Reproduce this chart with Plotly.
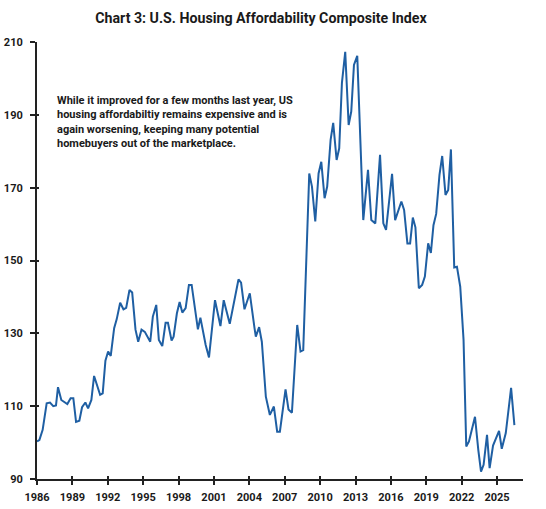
import plotly.graph_objects as go

# index readings (decimal year, index value)
years = [
    1986.0, 1986.2, 1986.48, 1986.82, 1987.1, 1987.38, 1987.61, 1987.78, 1988.06, 1988.34,
    1988.57, 1988.85, 1989.08, 1989.31, 1989.59, 1989.82, 1990.1, 1990.33, 1990.61, 1990.84,
    1991.12, 1991.35, 1991.57, 1991.8, 1992.03, 1992.25, 1992.54, 1992.76, 1993.05, 1993.33,
    1993.56, 1993.84, 1994.07, 1994.35, 1994.58, 1994.86, 1995.14, 1995.6, 1995.82, 1996.11,
    1996.33, 1996.62, 1996.9, 1997.1, 1997.41, 1997.58, 1997.86, 1998.09, 1998.32, 1998.6,
    1998.88, 1999.11, 1999.64, 1999.85, 2000.3, 2000.58, 2001.09, 2001.55, 2001.83, 2002.34,
    2003.08, 2003.3, 2003.59, 2004.04, 2004.44, 2004.55, 2004.83, 2005.06, 2005.4, 2005.74,
    2006.08, 2006.36, 2006.59, 2006.81, 2007.07, 2007.32, 2007.61, 2008.06, 2008.34, 2008.57,
    2009.08, 2009.31, 2009.59, 2009.87, 2010.1, 2010.38, 2010.6, 2010.89, 2011.11, 2011.4,
    2011.62, 2011.85, 2012.13, 2012.42, 2012.64, 2012.87, 2013.15, 2013.66, 2014.06, 2014.34,
    2014.68, 2015.08, 2015.36, 2015.59, 2016.1, 2016.36, 2016.89, 2017.12, 2017.4, 2017.63,
    2017.86, 2018.08, 2018.37, 2018.65, 2018.88, 2019.16, 2019.39, 2019.61, 2019.84, 2020.12,
    2020.35, 2020.63, 2020.86, 2021.09, 2021.37, 2021.6, 2021.88, 2022.16, 2022.39, 2022.62,
    2023.13, 2023.41, 2023.64, 2023.86, 2024.15, 2024.37, 2024.66, 2025.17, 2025.4, 2025.74,
    2026.19, 2026.47,
]
index_vals = [
    100.3, 100.7, 103.5, 110.8, 111.0, 110.0, 110.2, 115.2, 111.7, 111.2,
    110.6, 112.2, 112.2, 105.7, 106.0, 109.7, 111.0, 109.4, 111.7, 118.3,
    115.4, 113.1, 113.5, 122.5, 125.0, 123.8, 131.4, 133.9, 138.4, 136.6,
    137.0, 141.9, 141.2, 131.0, 127.7, 131.0, 130.4, 127.7, 134.6, 137.8,
    128.2, 126.5, 132.9, 132.9, 128.0, 129.1, 135.5, 138.6, 135.7, 136.9,
    143.3, 143.3, 131.1, 134.3, 126.8, 123.4, 139.1, 132.0, 139.1, 132.6,
    144.8, 143.9, 136.6, 141.0, 131.4, 129.1, 131.7, 127.7, 112.6, 107.6,
    109.9, 103.0, 103.0, 109.0, 114.6, 109.1, 108.2, 132.3, 125.0, 125.4,
    173.9, 170.3, 160.7, 173.9, 177.1, 167.1, 170.3, 183.1, 187.8, 177.6,
    180.8, 198.8, 207.3, 187.2, 190.9, 203.7, 206.2, 161.1, 174.9, 161.1,
    160.2, 179.0, 160.2, 158.4, 173.8, 161.1, 166.2, 163.9, 154.7, 154.7,
    161.8, 159.1, 142.4, 143.3, 145.6, 154.7, 152.1, 159.7, 162.8, 173.5,
    178.7, 168.0, 169.4, 180.5, 148.1, 148.3, 142.8, 128.2, 98.9, 100.3,
    107.1, 98.0, 92.0, 93.9, 102.1, 93.0, 99.2, 103.2, 98.3, 102.6,
    115.0, 104.8,
]

x_ticks = list(range(1986, 2026, 3))
y_ticks = [90, 110, 130, 150, 170, 190, 210]

note = ("While it improved for a few months last year, US<br>"
        "housing affordabiltiy remains expensive and is<br>"
        "again worsening, keeping many potential<br>"
        "homebuyers out of the marketplace.")

fig = go.Figure()
fig.add_trace(go.Scatter(
    x=years, y=index_vals, mode='lines',
    line=dict(color='#1f5fa3', width=2),
    showlegend=False, hoverinfo='skip',
))
# dummy trace so the tick overlay axes get drawn
fig.add_trace(go.Scatter(x=[1986], y=[90], xaxis='x2', yaxis='y2',
                         mode='markers', marker=dict(opacity=0),
                         showlegend=False, hoverinfo='skip'))

axis_font = dict(family='Roboto, Arial', size=11, color='#1a1a1a', weight='bold')

fig.update_layout(
    width=546, height=509,
    margin=dict(l=37, r=23, t=42, b=30),
    plot_bgcolor='white', paper_bgcolor='white',
    title=dict(text='<b>Chart 3: U.S. Housing Affordability Composite Index</b>',
               x=0.478, xanchor='center', y=0.965, yanchor='middle',
               font=dict(family='Roboto, Arial', size=14.2, color='#1a1a1a')),
    xaxis=dict(range=[1986, 2027.2], tickvals=x_ticks, ticks='outside', ticklen=4,
               tickwidth=2, tickcolor='#222', showline=True, linecolor='#222',
               linewidth=2, showgrid=False, zeroline=False, tickfont=axis_font,
               ticklabelstandoff=3, automargin=False),
    yaxis=dict(range=[90, 210], tickvals=y_ticks, ticks='outside', ticklen=5,
               tickwidth=2, tickcolor='#222', showline=True, linecolor='#222',
               linewidth=2, showgrid=False, zeroline=False, tickfont=axis_font,
               ticklabelstandoff=5, automargin=False),
    xaxis2=dict(range=[1986, 2027.2], tickvals=x_ticks, ticks='inside', ticklen=3,
                tickwidth=2, tickcolor='#222', showticklabels=False, showline=False,
                showgrid=False, zeroline=False, overlaying='x', anchor='y2',
                automargin=False),
    yaxis2=dict(range=[90, 210], tickvals=y_ticks, ticks='inside', ticklen=2,
                tickwidth=2, tickcolor='#222', showticklabels=False, showline=False,
                showgrid=False, zeroline=False, overlaying='y', anchor='x2',
                automargin=False),
    annotations=[dict(
        text=note, xref='paper', yref='paper', x=0.037, y=0.886,
        xanchor='left', yanchor='top', align='left', showarrow=False,
        font=dict(family='Roboto, Arial', size=11, color='#1a1a1a', weight='bold'),
    )],
)

# drop the browser's default 8px body margin so the figure sits at the page corner
fig.write_html("out.html", config={'displayModeBar': False},
               post_script="document.body.style.margin='0px';")
